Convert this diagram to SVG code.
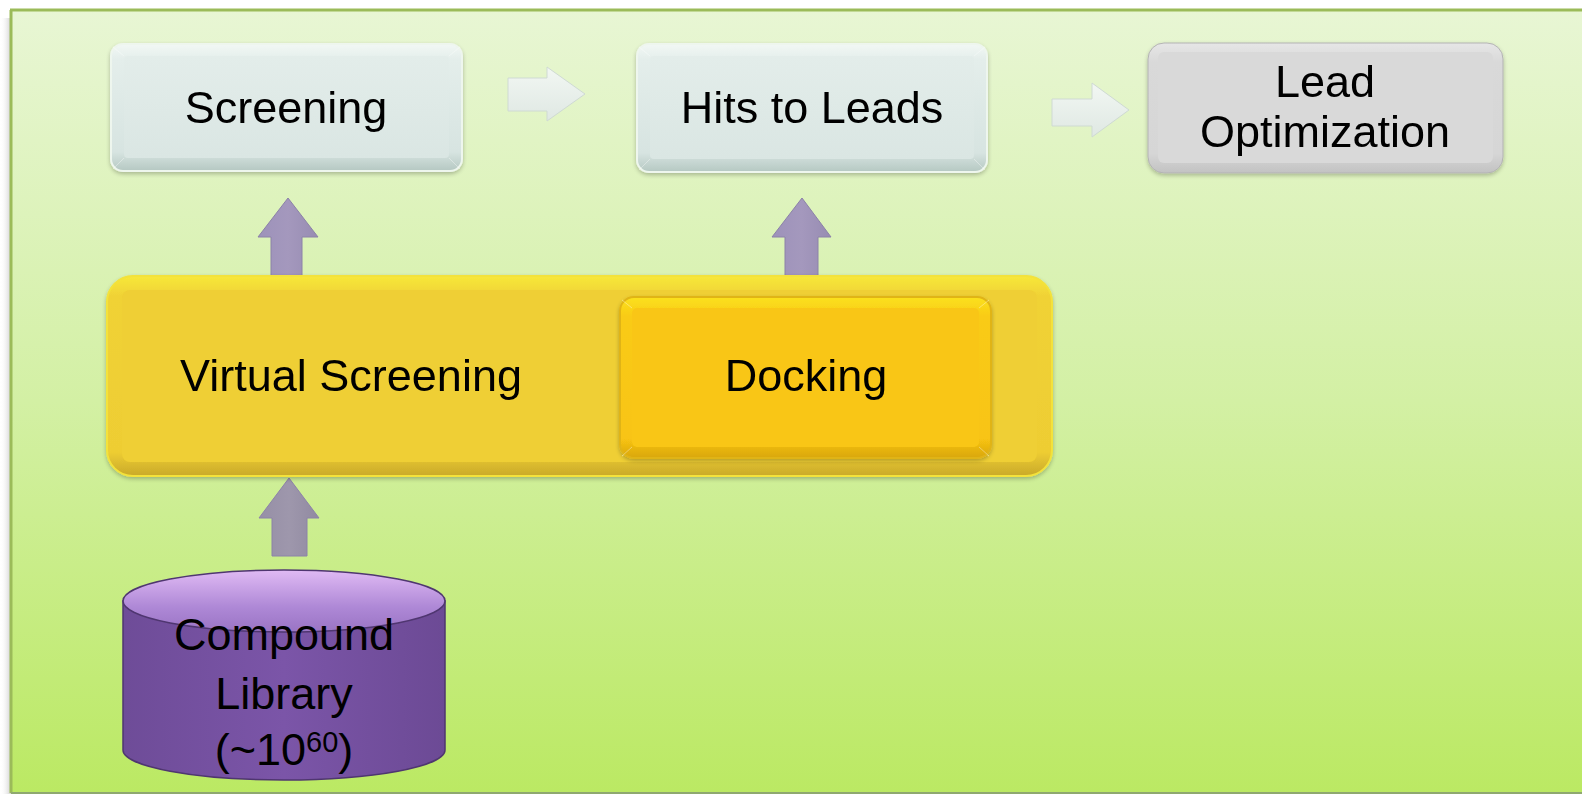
<svg xmlns="http://www.w3.org/2000/svg" width="1582" height="794" viewBox="0 0 1582 794">
  <defs>
    <linearGradient id="bg" x1="0" y1="0" x2="0" y2="1">
      <stop offset="0" stop-color="#e8f6d4"/>
      <stop offset="0.5" stop-color="#d3f0a4"/>
      <stop offset="1" stop-color="#bbe963"/>
    </linearGradient>
    <linearGradient id="shadowL" x1="1" y1="0" x2="0" y2="0">
      <stop offset="0" stop-color="#9a9a9a" stop-opacity="0.55"/>
      <stop offset="1" stop-color="#ffffff" stop-opacity="0"/>
    </linearGradient>
    <linearGradient id="blueOuter" x1="0" y1="0" x2="0" y2="1">
      <stop offset="0" stop-color="#f2f8f5"/>
      <stop offset="0.12" stop-color="#e4eeeb"/>
      <stop offset="0.85" stop-color="#d7e4e1"/>
      <stop offset="1" stop-color="#b5c8c2"/>
    </linearGradient>
    <linearGradient id="blueInner" x1="0" y1="0" x2="0" y2="1">
      <stop offset="0" stop-color="#e3edea"/>
      <stop offset="1" stop-color="#dae6e3"/>
    </linearGradient>
    <linearGradient id="grayOuter" x1="0" y1="0" x2="0" y2="1">
      <stop offset="0" stop-color="#e6e6e6"/>
      <stop offset="0.15" stop-color="#d9d9d9"/>
      <stop offset="0.85" stop-color="#d6d6d6"/>
      <stop offset="1" stop-color="#c2c2c2"/>
    </linearGradient>
    <linearGradient id="yellowOuter" x1="0" y1="0" x2="0" y2="1">
      <stop offset="0" stop-color="#f7e83a"/>
      <stop offset="0.1" stop-color="#f0d236"/>
      <stop offset="0.88" stop-color="#eecd33"/>
      <stop offset="1" stop-color="#c9a92a"/>
    </linearGradient>
    <linearGradient id="dockOuter" x1="0" y1="0" x2="0" y2="1">
      <stop offset="0" stop-color="#fbe11e"/>
      <stop offset="0.12" stop-color="#f9cb15"/>
      <stop offset="0.88" stop-color="#f8c412"/>
      <stop offset="1" stop-color="#d9a70f"/>
    </linearGradient>
    <linearGradient id="cylBody" x1="0" y1="0" x2="1" y2="0">
      <stop offset="0" stop-color="#6e4c98"/>
      <stop offset="0.5" stop-color="#7b55a8"/>
      <stop offset="1" stop-color="#6c4a95"/>
    </linearGradient>
    <linearGradient id="cylTop" x1="0" y1="0" x2="0" y2="1">
      <stop offset="0" stop-color="#e0baf4"/>
      <stop offset="0.6" stop-color="#ae88d6"/>
      <stop offset="1" stop-color="#9a74c4"/>
    </linearGradient>
    <linearGradient id="upArrow" x1="0" y1="0" x2="1" y2="0">
      <stop offset="0" stop-color="#9d92ba"/>
      <stop offset="0.5" stop-color="#a498bd"/>
      <stop offset="1" stop-color="#978cb2"/>
    </linearGradient>
    <linearGradient id="upArrowGray" x1="0" y1="0" x2="1" y2="0">
      <stop offset="0" stop-color="#968fa6"/>
      <stop offset="0.5" stop-color="#9e97ac"/>
      <stop offset="1" stop-color="#918aa1"/>
    </linearGradient>
    <linearGradient id="rightArrow" x1="0" y1="0" x2="0" y2="1">
      <stop offset="0" stop-color="#f2f7f3"/>
      <stop offset="1" stop-color="#dfe8e3"/>
    </linearGradient>
    <filter id="soft" x="-5%" y="-5%" width="110%" height="115%">
      <feGaussianBlur in="SourceAlpha" stdDeviation="2"/>
      <feOffset dx="0" dy="2" result="b"/>
      <feComponentTransfer><feFuncA type="linear" slope="0.25"/></feComponentTransfer>
      <feMerge><feMergeNode/><feMergeNode in="SourceGraphic"/></feMerge>
    </filter>
  </defs>
  <style>
    .lbl { font-family: "Liberation Sans", Arial, sans-serif; font-size: 45px; fill: #000000; text-anchor: middle; }
    .bevel { fill: none; stroke: #ffffff; stroke-opacity: 0.35; stroke-width: 1; }
    .upArr { stroke: #8c82a8; stroke-width: 1; }
    .rtArr { fill: url(#rightArrow); stroke: #cfdad3; stroke-width: 1; }
  </style>

  <!-- page panel -->
  <g id="panel">
    <rect x="0" y="18" width="12" height="776" fill="url(#shadowL)"/>
    <rect x="11" y="10" width="1571" height="783" fill="url(#bg)"/>
    <line x1="10" y1="10" x2="1582" y2="10" stroke="#9bbb59" stroke-width="3"/>
    <line x1="11" y1="10" x2="11" y2="793" stroke="#9bbb59" stroke-width="3"/>
    <line x1="11" y1="793" x2="1582" y2="793" stroke="#8fa870" stroke-width="2"/>
  </g>

  <!-- connectors -->
  <g id="connectors">
    <path class="rtArr" d="M508,78 H547 V67 L585,94 L547,121 V111 H508 Z"/>
    <path class="rtArr" d="M1052,99 H1092 V83 L1129,110 L1092,137 V126 H1052 Z"/>
    <path class="upArr" fill="url(#upArrow)" d="M271,278 V237 H258 L288,198 L318,237 H302 V278 Z"/>
    <path class="upArr" fill="url(#upArrow)" d="M785,278 V237 H772 L802,198 L831,237 H818 V278 Z"/>
    <path class="upArr" fill="url(#upArrowGray)" d="M272,556 V518 H259 L289,478 L319,518 H307 V556 Z"/>
  </g>

  <!-- Screening -->
  <g id="screening" filter="url(#soft)">
    <rect x="111" y="44" width="351" height="127" rx="12" fill="url(#blueOuter)" stroke="#eef6ee" stroke-width="2"/>
    <rect x="124" y="56" width="325" height="102" rx="4" fill="url(#blueInner)"/>
    <path class="bevel" d="M113,47 L124,56 M460,47 L449,56 M113,169 L124,158 M460,169 L449,158"/>
    <text class="lbl" x="286" y="123">Screening</text>
  </g>

  <!-- Hits to Leads -->
  <g id="hits-to-leads" filter="url(#soft)">
    <rect x="637" y="44" width="350" height="128" rx="12" fill="url(#blueOuter)" stroke="#eef6ee" stroke-width="2"/>
    <rect x="650" y="56" width="324" height="103" rx="4" fill="url(#blueInner)"/>
    <path class="bevel" d="M639,47 L650,56 M985,47 L974,56 M639,170 L650,159 M985,170 L974,159"/>
    <text class="lbl" x="812" y="123">Hits to Leads</text>
  </g>

  <!-- Lead Optimization -->
  <g id="lead-optimization" filter="url(#soft)">
    <rect x="1148" y="43" width="355" height="130" rx="16" fill="url(#grayOuter)" stroke="#b3b3b3" stroke-width="1"/>
    <rect x="1158" y="52" width="335" height="111" rx="6" fill="#d9d9d9"/>
    <text class="lbl" x="1325" y="97">Lead</text>
    <text class="lbl" x="1325" y="147">Optimization</text>
  </g>

  <!-- Virtual Screening container -->
  <g id="virtual-screening" filter="url(#soft)">
    <rect x="107" y="276" width="945" height="200" rx="26" fill="url(#yellowOuter)" stroke="#f3e23a" stroke-width="2"/>
    <rect x="122" y="290" width="915" height="172" rx="8" fill="#efcf34"/>
    <text class="lbl" x="351" y="391">Virtual Screening</text>
  </g>

  <!-- Docking -->
  <g id="docking" filter="url(#soft)">
    <rect x="620" y="297" width="371" height="161" rx="14" fill="url(#dockOuter)" stroke="#e0b418" stroke-width="2"/>
    <rect x="632" y="308" width="347" height="139" rx="5" fill="#f9c613"/>
    <path class="bevel" d="M622,300 L632,308 M989,300 L979,308 M622,456 L632,447 M989,456 L979,447"/>
    <text class="lbl" x="806" y="391">Docking</text>
  </g>

  <!-- Compound Library -->
  <g id="compound-library">
    <path d="M123,601 V750 A161,30 0 0 0 445,750 V601 Z" fill="url(#cylBody)" stroke="#4f3670" stroke-width="1.5"/>
    <ellipse cx="284" cy="601" rx="161" ry="31" fill="url(#cylTop)" stroke="#4f3670" stroke-width="1.5"/>
    <text class="lbl" x="284" y="650">Compound</text>
    <text class="lbl" x="284" y="709">Library</text>
    <text class="lbl" x="284" y="765">(~10<tspan font-size="29" dy="-13">60</tspan><tspan dy="13">)</tspan></text>
  </g>
</svg>
